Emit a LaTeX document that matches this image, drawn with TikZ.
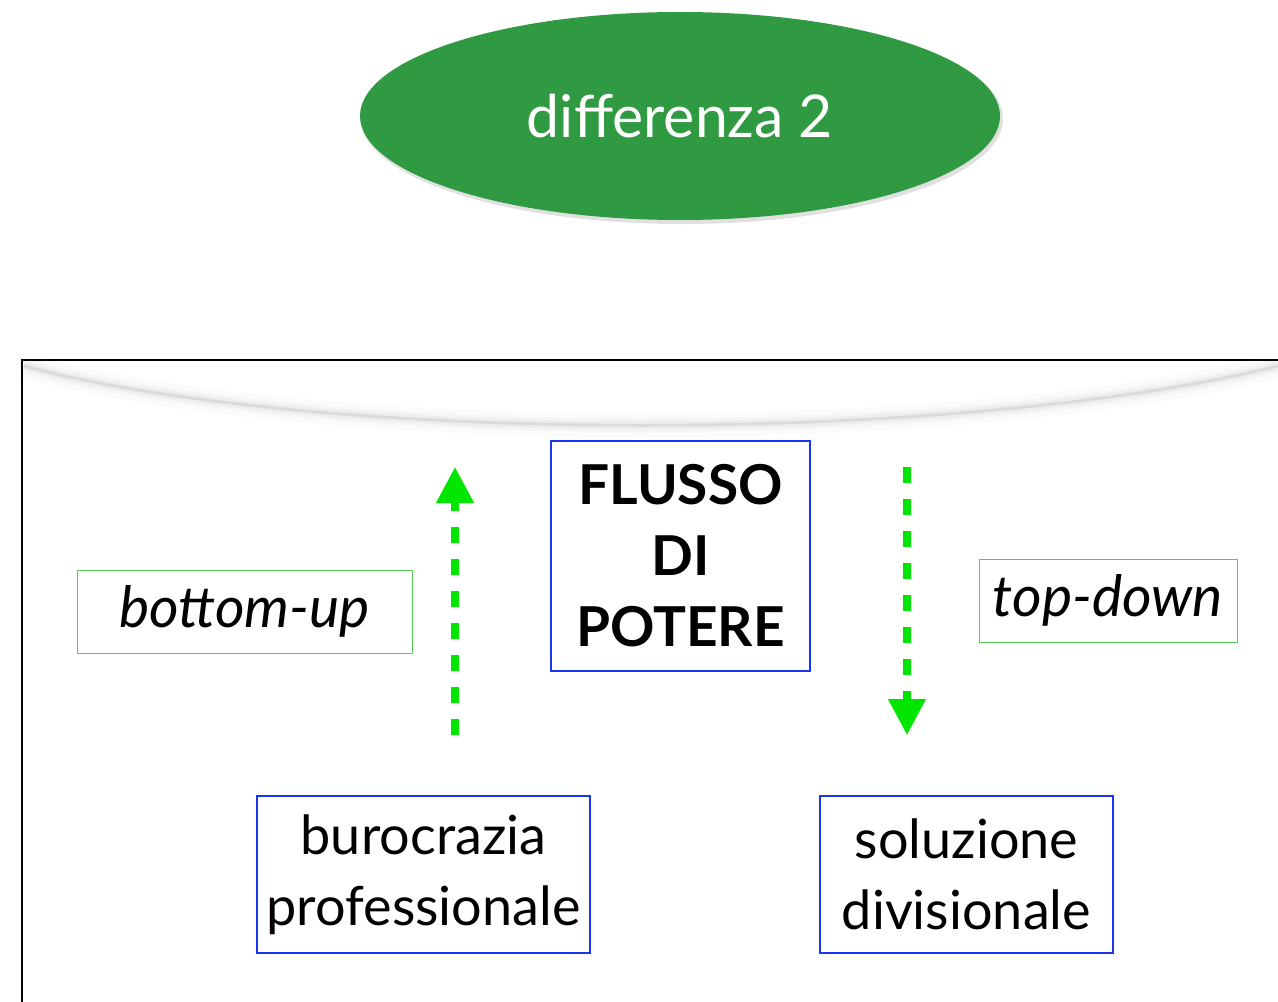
\documentclass[tikz,border=0pt]{standalone}
\usepackage{fontspec}
\setmainfont{Lato}
\usetikzlibrary{shapes.geometric,arrows.meta,positioning}
\definecolor{LeafGreen}{HTML}{2F9A41}
\definecolor{FrameBlue}{HTML}{1A35F0}
\definecolor{FlowGreen}{HTML}{00E600}
\definecolor{TagGreen}{HTML}{55CC55}
\definecolor{ShadeGray}{HTML}{8A8A8A}

\begin{document}
\begin{tikzpicture}[x=1pt,y=-1pt,
    bx/.style={rectangle,draw=FrameBlue,line width=2pt,inner sep=0pt,
               align=center,font=\fontsize{54}{71}\selectfont},
    tag/.style={rectangle,draw=TagGreen,line width=1pt,inner sep=0pt,
                font=\fontsize{57}{60}\selectfont\itshape},
    ar/.style={FlowGreen,line width=7.5pt,dash pattern=on 16pt off 16pt,
               -{Triangle[length=36pt,width=36pt]}}]
\useasboundingbox (0,0) rectangle (1278,1002);
\clip (0,0) rectangle (1278,1002);
% title
\fill[black,opacity=0.12] (682,119) ellipse [x radius=321pt,y radius=105pt];
\node[ellipse,fill=LeafGreen,minimum width=640pt,minimum height=208pt,
      text=white,font=\fontsize{59}{59}\selectfont] (diff) at (680,116) {differenza 2};
% frame with its curled shadow
\draw[line width=2.5pt] (1300,360) -- (22,360) -- (22,1030);
\foreach \w/\o in {24/0.03,14/0.05,8/0.08,3/0.18}
  \draw[ShadeGray,line width=\w pt,opacity=\o]
    (24,366) .. controls (320,445) and (960,445) .. (1278,366);
% boxes
\node[bx,minimum width=259pt,minimum height=230pt,
      font=\fontsize{55}{71}\selectfont\bfseries] (flusso) at (680.5,556) {FLUSSO\\DI\\POTERE};
\node[bx,minimum width=333pt,minimum height=157pt] (buro) at (423.5,874.5) {burocrazia\\professionale};
\node[bx,minimum width=293pt,minimum height=157pt] (sol) at (966.5,874.5) {soluzione\\divisionale};
\node[tag,minimum width=335pt,minimum height=83pt] (bu) at (244.5,611.5) {bottom-up};
\node[tag,minimum width=258pt,minimum height=83pt] (td) at (1108,600.5) {top-down};
% power flow
\coordinate (upS) at (455,735); \coordinate (upE) at (455,467);
\coordinate (dnS) at (907,467); \coordinate (dnE) at (907,735);
\draw[ar] (upS) -- (upE);
\draw[ar] (dnS) -- (dnE);
\end{tikzpicture}
\end{document}
